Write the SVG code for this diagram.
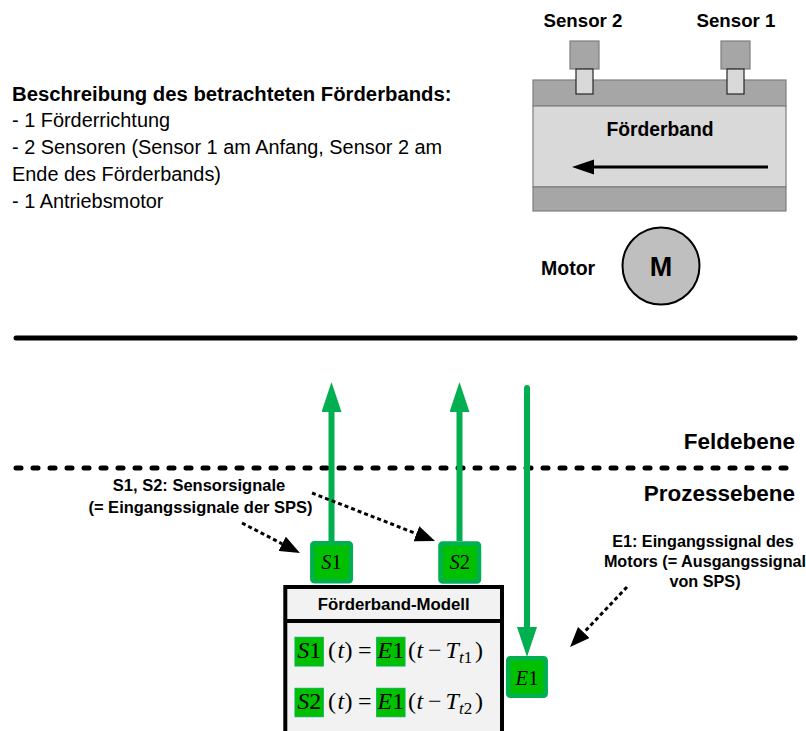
<svg xmlns="http://www.w3.org/2000/svg" width="806" height="731" viewBox="0 0 806 731">
  <style>
    .txt { font-family: "Liberation Sans", Arial, sans-serif; fill: #000; }
    .b { font-weight: bold; }
    .math { font-family: "Liberation Serif", "Times New Roman", serif; fill: #000; }
    .it { font-style: italic; }
    .band { fill: #a6a6a6; stroke: #7f7f7f; stroke-width: 1.2; }
    .belt { fill: #d9d9d9; stroke: #7f7f7f; stroke-width: 1.2; }
    .sensorHead { fill: #a6a6a6; stroke: #7f7f7f; stroke-width: 1.2; }
    .sensorStem { fill: #d9d9d9; stroke: #262626; stroke-width: 1.2; }
    .sig { stroke: #00b050; stroke-width: 6; fill: none; }
    .sigBox { fill: #00c000; stroke: #00b050; stroke-width: 4.5; }
    .hl { fill: #00c000; stroke: #00b050; stroke-width: 1; }
    .note { stroke: #000; stroke-width: 3; stroke-dasharray: 4 3; fill: none; }
  </style>
  <defs>
    <marker id="greenHead" viewBox="0 0 30 20" markerWidth="30" markerHeight="20" refX="0" refY="10" orient="auto" markerUnits="userSpaceOnUse">
      <path d="M0,0 L30,10 L0,20 Z" fill="#00b050"/>
    </marker>
    <marker id="blackHead" viewBox="0 0 20 16" markerWidth="20" markerHeight="16" refX="0" refY="8" orient="auto" markerUnits="userSpaceOnUse">
      <path d="M0,0 L20,8 L0,16 Z" fill="#000"/>
    </marker>
  </defs>

  <rect width="806" height="731" fill="#fff"/>

  <!-- description text -->
  <g id="description" class="txt">
    <text x="12" y="101" class="b" font-size="20.3">Beschreibung des betrachteten Förderbands:</text>
    <text x="12" y="127" font-size="19.9">- 1 Förderrichtung</text>
    <text x="12" y="154" font-size="19.9">- 2 Sensoren (Sensor 1 am Anfang, Sensor 2 am</text>
    <text x="12" y="181" font-size="19.9">Ende des Förderbands)</text>
    <text x="12" y="208" font-size="19.9">- 1 Antriebsmotor</text>
  </g>

  <!-- conveyor belt -->
  <g id="conveyor">
    <rect class="band" x="533" y="80" width="253" height="26"/>
    <rect class="belt" x="533" y="106" width="253" height="81"/>
    <rect class="band" x="533" y="187" width="253" height="24"/>
    <text x="660" y="136" class="txt b" font-size="19.3" text-anchor="middle">Förderband</text>
    <line x1="768" y1="167" x2="592" y2="167" stroke="#000" stroke-width="3"/>
    <polygon points="572,167 594,159.5 594,174.5" fill="#000"/>
  </g>

  <g id="sensor2">
    <rect class="sensorHead" x="570" y="41" width="29" height="28"/>
    <rect class="sensorStem" x="576" y="69" width="17" height="25"/>
    <text x="583" y="27" class="txt b" font-size="18.7" text-anchor="middle">Sensor 2</text>
  </g>

  <g id="sensor1">
    <rect class="sensorHead" x="721" y="41" width="29" height="28"/>
    <rect class="sensorStem" x="727" y="69" width="17" height="25"/>
    <text x="736" y="27" class="txt b" font-size="18.7" text-anchor="middle">Sensor 1</text>
  </g>

  <g id="motor">
    <circle cx="661" cy="266" r="38.5" fill="#bfbfbf" stroke="#000" stroke-width="2"/>
    <text x="661" y="276" class="txt b" font-size="27" text-anchor="middle">M</text>
    <text x="541" y="275" class="txt b" font-size="19.5">Motor</text>
  </g>

  <!-- level separators -->
  <g id="levels">
    <line x1="16" y1="338" x2="795" y2="338" stroke="#000" stroke-width="5" stroke-linecap="round"/>
    <line x1="16" y1="468" x2="798" y2="468" stroke="#000" stroke-width="5" stroke-linecap="round" stroke-dasharray="5 12"/>
    <text x="795" y="449" class="txt b" font-size="22.5" text-anchor="end">Feldebene</text>
    <text x="795" y="501" class="txt b" font-size="22.5" text-anchor="end">Prozessebene</text>
  </g>

  <!-- connectors -->
  <g id="connectors">
    <line class="sig" x1="331.5" y1="541" x2="331.5" y2="412" marker-end="url(#greenHead)"/>
    <line class="sig" x1="459.5" y1="541" x2="459.5" y2="412" marker-end="url(#greenHead)"/>
    <line class="sig" x1="527" y1="388" x2="527" y2="627" stroke-linecap="round"/>
    <line class="sig" x1="527" y1="626" x2="527" y2="627" stroke-linecap="butt" marker-end="url(#greenHead)"/>
    <line class="note" x1="242" y1="523" x2="282.2" y2="543.8" marker-end="url(#blackHead)"/>
    <line class="note" x1="312" y1="493" x2="416.4" y2="533.7" marker-end="url(#blackHead)"/>
    <line class="note" x1="627" y1="587" x2="583.8" y2="632.5" marker-end="url(#blackHead)"/>
  </g>

  <!-- annotations -->
  <g id="sensorNote" class="txt b" font-size="16.5" text-anchor="middle">
    <text x="199" y="491">S1, S2: Sensorsignale</text>
    <text x="200.5" y="513">(= Eingangssignale der SPS)</text>
  </g>
  <g id="motorNote" class="txt b" font-size="16.2" text-anchor="middle">
    <text x="703" y="547">E1: Eingangssignal des</text>
    <text x="705" y="567">Motors (= Ausgangssignal</text>
    <text x="705" y="587">von SPS)</text>
  </g>

  <!-- signal boxes -->
  <g id="S1">
    <rect class="sigBox" x="312.3" y="543.3" width="38.5" height="38" rx="2"/>
    <text x="331.5" y="569" class="math" font-size="20.5" text-anchor="middle"><tspan class="it">S</tspan>1</text>
  </g>
  <g id="S2">
    <rect class="sigBox" x="440.5" y="543.5" width="38.5" height="38" rx="2"/>
    <text x="459.7" y="569" class="math" font-size="20.5" text-anchor="middle"><tspan class="it">S</tspan>2</text>
  </g>
  <g id="E1">
    <rect class="sigBox" x="508.2" y="658.2" width="37.5" height="37.5" rx="2"/>
    <text x="527" y="685" class="math" font-size="20.5" text-anchor="middle"><tspan class="it">E</tspan>1</text>
  </g>

  <!-- model block -->
  <g id="model">
    <rect x="285.3" y="587" width="216.7" height="160" fill="#f2f2f2" stroke="#000" stroke-width="4"/>
    <line x1="285.3" y1="621" x2="502" y2="621" stroke="#000" stroke-width="4"/>
    <text x="393.7" y="609.5" class="txt b" font-size="16.8" text-anchor="middle">Förderband-Modell</text>

    <rect class="hl" x="295" y="637.3" width="28.3" height="28.7"/>
    <rect class="hl" x="376.7" y="637.3" width="28.3" height="28.7"/>
    <g class="math" font-size="24">
      <text x="309.2" y="657.5" text-anchor="middle"><tspan class="it">S</tspan>1</text>
      <text x="328" y="657.5">(</text>
      <text x="337.5" y="657.5" class="it">t</text>
      <text x="344.5" y="657.5">)</text>
      <text x="358" y="657.5">=</text>
      <text x="390.8" y="657.5" text-anchor="middle"><tspan class="it">E</tspan>1</text>
      <text x="408" y="657.5">(</text>
      <text x="416.5" y="657.5" class="it">t</text>
      <text x="428" y="657.5">−</text>
      <text x="445.5" y="657.5" class="it">T</text>
      <text x="459" y="662.5" font-size="17"><tspan class="it">t</tspan>1</text>
      <text x="475" y="657.5">)</text>
    </g>

    <rect class="hl" x="295" y="688.3" width="28.3" height="28.4"/>
    <rect class="hl" x="376.7" y="688.3" width="28.3" height="28.4"/>
    <g class="math" font-size="24">
      <text x="309.2" y="708.5" text-anchor="middle"><tspan class="it">S</tspan>2</text>
      <text x="328" y="708.5">(</text>
      <text x="337.5" y="708.5" class="it">t</text>
      <text x="344.5" y="708.5">)</text>
      <text x="358" y="708.5">=</text>
      <text x="390.8" y="708.5" text-anchor="middle"><tspan class="it">E</tspan>1</text>
      <text x="408" y="708.5">(</text>
      <text x="416.5" y="708.5" class="it">t</text>
      <text x="428" y="708.5">−</text>
      <text x="445.5" y="708.5" class="it">T</text>
      <text x="459" y="713.5" font-size="17"><tspan class="it">t</tspan>2</text>
      <text x="475" y="708.5">)</text>
    </g>
  </g>
</svg>
